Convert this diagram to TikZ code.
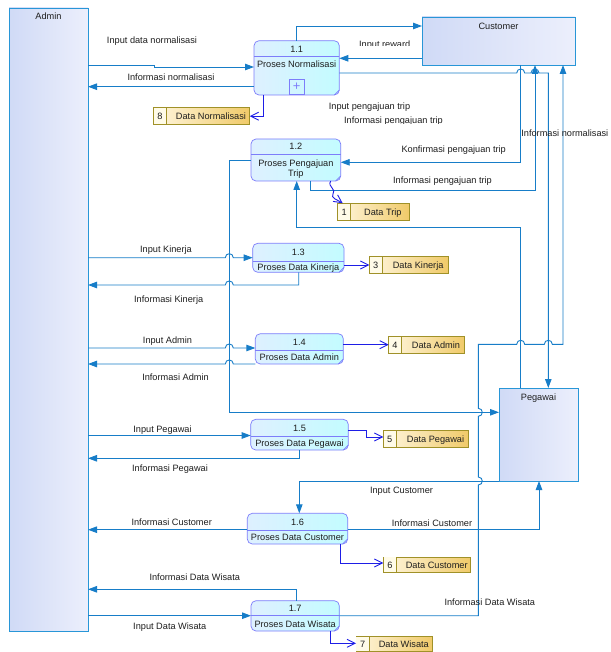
\documentclass[tikz,border=0pt]{standalone}
\usepackage{fontspec}
\setmainfont{Liberation Sans}
\usetikzlibrary{arrows.meta}

\definecolor{flowc}{RGB}{23,125,200}
\definecolor{storec}{RGB}{30,30,230}
\definecolor{procb}{RGB}{125,125,250}
\definecolor{procl}{RGB}{222,240,255}
\definecolor{procr}{RGB}{195,252,255}
\definecolor{entb}{RGB}{40,150,215}
\definecolor{entl}{RGB}{208,218,246}
\definecolor{entr}{RGB}{236,239,252}
\definecolor{stob}{RGB}{160,145,40}
\definecolor{stol}{RGB}{255,246,222}
\definecolor{stor}{RGB}{240,202,105}
\definecolor{stonum}{RGB}{255,251,232}
\definecolor{txtc}{RGB}{30,30,30}

\newcommand\lblfont{\fontsize{9.2}{11}\selectfont}

% line hops: horizontal going right / left, vertical going up (bump to the right)
\newcommand\hr[2]{-- ({#1-4},#2) .. controls ({#1-4},{#2-5.3}) and ({#1+4},{#2-5.3}) .. ({#1+4},#2)}
\newcommand\hl[2]{-- ({#1+4},#2) .. controls ({#1+4},{#2-5.3}) and ({#1-4},{#2-5.3}) .. ({#1-4},#2)}
\newcommand\vu[2]{-- (#1,{#2+4}) .. controls ({#1+5.3},{#2+4}) and ({#1+5.3},{#2-4}) .. (#1,{#2-4})}

% process: name, x1, y1, x2, y2, header y, number, label, label y
\newcommand\procbox[9]{%
  \pgfmathsetmacro\pbw{#4-#2}\pgfmathsetmacro\pbh{#5-#3}%
  \pgfmathsetmacro\pbx{(#2+#4)/2}\pgfmathsetmacro\pby{(#3+#5)/2}%
  \pgfmathsetmacro\pny{(#3+#6)/2}%
  \node[proc, minimum width=\pbw pt, minimum height=\pbh pt] (#1) at (\pbx,\pby) {};
  \draw[procline] (#1.west |- 0,#6) -- (#1.east |- 0,#6);
  \draw[procline] ({#4-5},#5) -- (#4,{#5-5});
  \node[lbl] (#1num) at (\pbx,\pny) {#7};
  \node[lbl] (#1txt) at (\pbx,#9) {#8};
}

% data store: name, x1, y1, divider x, x2, y2, number, label
\newcommand\storebox[8]{%
  \pgfmathsetmacro\sbw{#5-#2}\pgfmathsetmacro\sbh{#6-#3}%
  \pgfmathsetmacro\sbx{(#2+#5)/2}\pgfmathsetmacro\sby{(#3+#6)/2}%
  \pgfmathsetmacro\snx{(#2+#4)/2}\pgfmathsetmacro\stx{(#4+#5)/2+3}%
  \node[store, minimum width=\sbw pt, minimum height=\sbh pt] (#1) at (\sbx,\sby) {};
  \fill[stonum] ({#2+0.4},{#3+0.4}) rectangle (#4,{#6-0.4});
  \draw[stob, line width=0.8pt] (#4,#3) -- (#4,#6);
  \node[lbl] (#1num) at (\snx,\sby) {#7};
  \node[lbl] (#1txt) at (\stx,\sby) {#8};
}

\begin{document}
\begin{tikzpicture}[x=1pt,y=-1pt,
  lbl/.style={font=\lblfont, text=txtc, inner sep=0pt, text height=6.7pt, text depth=0pt},
  ent/.style={draw=entb, line width=0.8pt, left color=entl, right color=entr, inner sep=0pt, outer sep=0pt},
  proc/.style={draw=procb, line width=0.7pt, rounded corners=5pt, left color=procl, right color=procr, inner sep=0pt, outer sep=0pt},
  procline/.style={draw=procb, line width=0.7pt},
  store/.style={draw=stob, line width=0.8pt, left color=stol, right color=stor, inner sep=0pt, outer sep=0pt},
  flow/.style={draw=flowc, line width=0.9pt, -{Triangle[length=9pt,width=6.5pt]}},
  sflow/.style={draw=storec, line width=0.9pt, -{Straight Barb[length=8pt,width=8pt,line width=0.9pt]}}]

\useasboundingbox (0,0) rectangle (610,652);
\fill[white] (0,0) rectangle (610,652);

% external entities
\node[ent, minimum width=79pt, minimum height=623pt] (admin) at (48.5,319.5) {};
\node[lbl] (adminlbl) at (48.5,16) {Admin};
\node[ent, minimum width=153pt, minimum height=48pt] (cust) at (498.5,41) {};
\node[lbl] (custlbl) at (498.5,26) {Customer};
\node[ent, minimum width=79pt, minimum height=93pt] (peg) at (538.5,434.5) {};
\node[lbl] (peglbl) at (538.5,396.7) {Pegawai};

% processes
\procbox{p11}{254}{40.7}{339.3}{95}{56.7}{1.1}{Proses Normalisasi}{64}
\node[draw=procb, line width=0.7pt, inner sep=0pt, minimum width=14.7pt, minimum height=15.3pt,
      text=procb, font=\fontsize{13}{13}\selectfont] (p11plus) at (296.65,86.65) {+};
\procbox{p12}{251}{139}{340.7}{181}{154}{1.2}{Proses Pengajuan}{162.7}
\node[lbl] (p12txtb) at (295.85,173.3) {Trip};
\procbox{p13}{252.7}{243.3}{344}{272.3}{261}{1.3}{Proses Data Kinerja}{266.7}
\procbox{p14}{255.3}{333.7}{343.3}{364}{350}{1.4}{Proses Data Admin}{357.4}
\procbox{p15}{250.7}{419.3}{348.3}{450}{436.5}{1.5}{Proses Data Pegawai}{443.6}
\procbox{p16}{247.3}{513.3}{347.7}{544}{530}{1.6}{Proses Data Customer}{537.3}
\procbox{p17}{251}{600.7}{339.3}{631}{615.7}{1.7}{Proses Data Wisata}{623.8}

% data stores
\storebox{s8}{153.7}{107.7}{166.3}{249.7}{124.7}{8}{Data Normalisasi}
\storebox{s1}{337.7}{203.3}{350.7}{409}{220}{1}{Data Trip}
\storebox{s3}{369.3}{256.7}{382.3}{448}{273.3}{3}{Data Kinerja}
\storebox{s4}{388.7}{336.3}{401.3}{464.7}{353}{4}{Data Admin}
\storebox{s5}{383.3}{430.7}{396.3}{468.7}{447.3}{5}{Data Pegawai}
\storebox{s6}{383.3}{557}{396.7}{470.7}{572.7}{6}{Data Customer}
\storebox{s7}{356}{636.7}{369.3}{432.3}{651.5}{7}{Data Wisata}

% flows of 1.1
\draw[flow] (admin.east |- 0,65) -- (154,65) -- (154,67) -- (p11.west |- 0,67);
\draw[flow] (p11.west |- 0,86.7) -- (admin.east |- 0,86.7);
\draw[sflow] (p11.south -| 263.3,0) -- (263.3,116.2) -- (s8.east);
\draw[flow] (p11.north -| 296.7,0) -- (296.7,26) -- (cust.west |- 0,26);
\draw[flow] (cust.west |- 0,58.3) -- (p11.east |- 0,58.3);
\draw[flow] (p11.east |- 0,73) \hr{520.7}{73} \hr{535}{73} -- (548.3,73) -- (peg.north -| 548.3,0);

% flows of 1.2
\draw[flow] (cust.south -| 520.7,0) -- (520.7,162.3) -- (p12.east |- 0,162.3);
\draw[flow] (p12.south -| 310,0) -- (310,190.7) -- (535,190.7) -- (cust.south -| 535,0);
\draw[flow] (peg.north -| 520.7,0) -- (520.7,227.7) -- (296.7,227.7) -- (p12.south -| 296.7,0);
\draw[sflow] (p12.south -| 330.7,0) .. controls (327,187) and (337,189) .. (333,194)
  .. controls (330,198) and (338,200) .. ([xshift=5pt]s1.north west);
\draw[flow] (p12.west |- 0,160) -- (229.3,160) -- (229.3,412.3) -- (peg.west |- 0,412.3);

% 1.7 to Customer
\draw[flow] (p17.east |- 0,615.7) -- (478.3,615.7) \vu{478.3}{481} \vu{478.3}{412.3}
  -- (478.3,344.3) \hr{520.7}{344.3} \hr{548.3}{344.3} -- (563,344.3) -- (cust.south -| 563,0);

% flows of 1.3 and 1.4
\draw[flow] (admin.east |- 0,257.7) \hr{229.3}{257.7} -- (p13.west |- 0,257.7);
\draw[flow] (p13.south -| 298.7,0) -- (298.7,285) \hl{229.3}{285} -- (admin.east |- 0,285);
\draw[sflow] (p13.east |- s3.west) -- (s3.west);
\draw[flow] (admin.east |- 0,348) \hr{229.3}{348} -- (p14.west |- 0,348);
\draw[flow] (p14.south west) \hl{229.3}{364} -- (admin.east |- p14.south west);
\draw[sflow] (p14.east |- s4.west) -- (s4.west);

% flows of 1.5
\draw[flow] (admin.east |- 0,435.5) -- (p15.west |- 0,435.5);
\draw[flow] (p15.south -| 299.3,0) -- (299.3,458.3) -- (admin.east |- 0,458.3);
\draw[sflow] (p15.east |- 0,430.7) -- (366.7,430.7) -- (366.7,437) -- (s5.west |- 0,437);

% flows of 1.6
\draw[flow] (peg.south west) -- (299.3,481) -- (p16.north -| 299.3,0);
\draw[flow] (p16.east |- 0,529.7) -- (539,529.7) -- (peg.south -| 539,0);
\draw[flow] (p16.west |- 0,529.7) -- (admin.east |- 0,529.7);
\draw[sflow] (p16.south -| 340,0) -- (340,563) -- (s6.west |- 0,563);

% flows of 1.7
\draw[flow] (p17.north -| 296,0) -- (296,589.3) -- (admin.east |- 0,589.3);
\draw[flow] (admin.east |- 0,615.7) -- (p17.west |- 0,615.7);
\draw[sflow] (p17.south -| 330,0) -- (330,643.3) -- (s7.west |- 0,643.3);

% flow labels
\node[lbl] (l1) at (152,40) {Input data normalisasi};
\node[lbl] (l2) at (171,77) {Informasi normalisasi};
\begin{scope}
  \clip (340,30) rectangle (420,45.7);
  \node[lbl] (l3) at (384.7,44.65) {Input reward};
\end{scope}
\node[lbl] (l4) at (369.5,106) {Input pengajuan trip};
\begin{scope}
  \clip (330,110) rectangle (460,124);
  \node[lbl] (l5) at (393.5,120.65) {Informasi pengajuan trip};
\end{scope}
\node[lbl] (l6) at (453.7,148.7) {Konfirmasi pengajuan trip};
\node[lbl] (l7) at (442.5,180) {Informasi pengajuan trip};
\node[lbl, anchor=east] (l8) at (608.5,132.7) {Informasi normalisasi};
\node[lbl] (l9) at (166,249) {Input Kinerja};
\node[lbl] (l10) at (168.7,299) {Informasi Kinerja};
\node[lbl] (l11) at (167.5,340.3) {Input Admin};
\node[lbl] (l12) at (175.5,377.3) {Informasi Admin};
\node[lbl] (l13) at (162.5,429) {Input Pegawai};
\node[lbl] (l14) at (170,467.7) {Informasi Pegawai};
\node[lbl] (l15) at (401.5,490) {Input Customer};
\node[lbl] (l16) at (432,523.3) {Informasi Customer};
\node[lbl] (l17) at (171.7,521.7) {Informasi Customer};
\node[lbl] (l18) at (194.8,576.7) {Informasi Data Wisata};
\node[lbl] (l19) at (169.8,625.7) {Input Data Wisata};
\node[lbl] (l20) at (489.8,601.7) {Informasi Data Wisata};

\end{tikzpicture}
\end{document}
